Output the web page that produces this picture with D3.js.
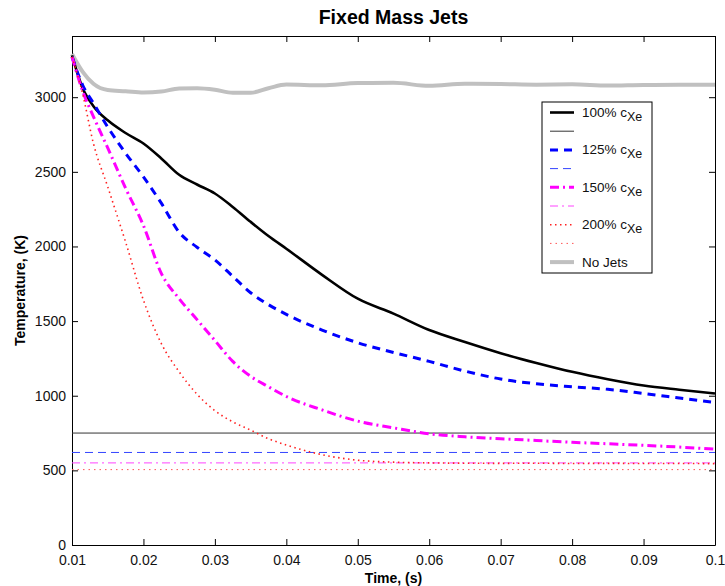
<!DOCTYPE html>
<html>
<head>
<meta charset="utf-8">
<script src="https://cdn.jsdelivr.net/npm/d3@7"></script>
<style>
  body { margin: 0; background: #fff; }
  text { font-family: "Liberation Sans", Arial, sans-serif; }
</style>
</head>
<body>
<svg id="chart" width="725" height="586"></svg>
<script>
// time samples (s)
var times = [0.01, 0.0115, 0.013, 0.015, 0.0175, 0.02, 0.0225, 0.025, 0.0275, 0.03, 0.0325, 0.035, 0.0375,
             0.04, 0.045, 0.05, 0.055, 0.06, 0.065, 0.07, 0.075, 0.08, 0.085, 0.09, 0.095, 0.1];

// temperatures (K)
var temp100 = [3280, 3060, 2940, 2845, 2760, 2690, 2590, 2480, 2415, 2355, 2265, 2165, 2070,
               1985, 1810, 1650, 1550, 1440, 1360, 1285, 1220, 1160, 1110, 1068, 1040, 1015];
var temp125 = [3270, 3080, 2960, 2800, 2625, 2466, 2290, 2095, 1995, 1910, 1800, 1690, 1610,
               1545, 1440, 1355, 1290, 1230, 1165, 1112, 1080, 1060, 1043, 1015, 985, 955];
var temp150 = [3270, 3040, 2870, 2660, 2390, 2140, 1820, 1650, 1510, 1370, 1230, 1130, 1060,
               995, 905, 830, 785, 745, 725, 712, 700, 688, 678, 668, 656, 642];
var temp200 = [3270, 3020, 2690, 2400, 2030, 1640, 1350, 1160, 1010, 900, 825, 770, 712,
               670, 605, 568, 555, 550, 548, 547, 548, 546, 547, 546, 546, 545];
var tempNoJets = [3290, 3170, 3090, 3048, 3040, 3031, 3038, 3058, 3060, 3050, 3030, 3030, 3060,
                  3085, 3080, 3095, 3096, 3076, 3090, 3088, 3084, 3086, 3078, 3082, 3083, 3083];

// horizontal reference levels (K)
var ref100 = 750, ref125 = 620, ref150 = 550, ref200 = 505;

var xTicks = [0.01, 0.02, 0.03, 0.04, 0.05, 0.06, 0.07, 0.08, 0.09, 0.1];
var xTickLabels = ["0.01", "0.02", "0.03", "0.04", "0.05", "0.06", "0.07", "0.08", "0.09", "0.1"];
var yTicks = [0, 500, 1000, 1500, 2000, 2500, 3000];

var svg = d3.select("#chart");
var margin = { left: 72, right: 10, top: 36, bottom: 41 };
var width = 725 - margin.left - margin.right;
var height = 586 - margin.top - margin.bottom;

var x = d3.scaleLinear().domain([0.01, 0.1]).range([0, width]);
var y = d3.scaleLinear().domain([0, 3410]).range([height, 0]);

var g = svg.append("g")
    .attr("transform", "translate(" + margin.left + "," + margin.top + ")");

// axes, ticks pointing inwards like matlab
g.append("g")
    .attr("transform", "translate(0," + height + ")")
    .call(d3.axisBottom(x).tickValues(xTicks).tickSize(-6).tickSizeOuter(0).tickPadding(10)
        .tickFormat((d, i) => xTickLabels[i]));
g.append("g")
    .call(d3.axisTop(x).tickValues(xTicks).tickSize(-6).tickSizeOuter(0).tickFormat(""));
g.append("g")
    .call(d3.axisLeft(y).tickValues(yTicks).tickSize(-6).tickSizeOuter(0).tickPadding(6)
        .tickFormat(d3.format("d")));
g.append("g")
    .attr("transform", "translate(" + width + ",0)")
    .call(d3.axisRight(y).tickValues(yTicks).tickSize(-6).tickSizeOuter(0).tickFormat(""));

g.selectAll(".domain").attr("stroke", "#000");
g.selectAll(".tick line").attr("stroke", "#000");
g.selectAll(".tick text")
    .style("font-size", "14px")
    .attr("fill", "#111");

// series styles
var series = [
    { vals: temp100, color: "#000", width: 2.6, dash: null },
    { vals: temp125, color: "#0000ff", width: 3, dash: "8,6" },
    { vals: temp150, color: "#ff00ff", width: 3, dash: "9,4,2,4" },
    { vals: temp200, color: "#ff2020", width: 1.6, dash: "1.5,3.5" },
    { vals: tempNoJets, color: "#c0c0c0", width: 4, dash: null }
];
var refs = [
    { val: ref100, color: "#333", width: 1, dash: null },
    { val: ref125, color: "#3344ff", width: 1, dash: "8,5" },
    { val: ref150, color: "#ff44ff", width: 1, dash: "8,4,2,4" },
    { val: ref200, color: "#ff5555", width: 1, dash: "1.5,4" }
];

var line = d3.line()
    .x((d, i) => x(times[i]))
    .y(d => y(d))
    .curve(d3.curveMonotoneX);

// no-jets curve drawn first so the others sit on it
g.append("path")
    .datum(tempNoJets)
    .attr("d", line)
    .attr("fill", "none")
    .attr("stroke", "#c0c0c0")
    .attr("stroke-width", 4);

refs.forEach(function(r) {
    g.append("line")
        .attr("x1", x(0.01)).attr("x2", x(0.1))
        .attr("y1", y(r.val)).attr("y2", y(r.val))
        .attr("stroke", r.color)
        .attr("stroke-width", r.width)
        .attr("stroke-dasharray", r.dash);
});

series.slice(0, 4).forEach(function(s) {
    g.append("path")
        .datum(s.vals)
        .attr("d", line)
        .attr("fill", "none")
        .attr("stroke", s.color)
        .attr("stroke-width", s.width)
        .attr("stroke-dasharray", s.dash);
});

// legend
var legendItems = [
    { label: "100% c", sub: "Xe", style: series[0] },
    { label: "", sub: "", style: refs[0] },
    { label: "125% c", sub: "Xe", style: series[1] },
    { label: "", sub: "", style: refs[1] },
    { label: "150% c", sub: "Xe", style: series[2] },
    { label: "", sub: "", style: refs[2] },
    { label: "200% c", sub: "Xe", style: series[3] },
    { label: "", sub: "", style: refs[3] },
    { label: "No Jets", sub: "", style: series[4] }
];

var legend = svg.append("g").attr("transform", "translate(542,102)");
legend.append("rect")
    .attr("width", 110).attr("height", 171)
    .attr("fill", "#fff").attr("stroke", "#000").attr("stroke-width", 1);

legendItems.forEach(function(item, i) {
    var ly = 10.5 + i * 18.7;
    legend.append("line")
        .attr("x1", 8).attr("x2", 32)
        .attr("y1", ly).attr("y2", ly)
        .attr("stroke", item.style.color)
        .attr("stroke-width", item.style.width)
        .attr("stroke-dasharray", item.style.dash);
    if (item.label) {
        var t = legend.append("text")
            .attr("x", 40).attr("y", ly + 4.5)
            .style("font-size", "13.5px")
            .attr("fill", "#111")
            .text(item.label);
        if (item.sub) {
            t.append("tspan")
                .attr("dy", 4)
                .style("font-size", "12.5px")
                .text(item.sub);
        }
    }
});

// titles
svg.append("text")
    .attr("x", margin.left + width / 2).attr("y", 24)
    .attr("text-anchor", "middle")
    .style("font-size", "19.5px").style("font-weight", "bold")
    .text("Fixed Mass Jets");

svg.append("text")
    .attr("x", margin.left + width / 2).attr("y", 583)
    .attr("text-anchor", "middle")
    .style("font-size", "14px").style("font-weight", "bold")
    .text("Time, (s)");

svg.append("text")
    .attr("transform", "translate(25," + (margin.top + height / 2) + ") rotate(-90)")
    .attr("text-anchor", "middle")
    .style("font-size", "14px").style("font-weight", "bold")
    .text("Temperature, (K)");
</script>
</body>
</html>
